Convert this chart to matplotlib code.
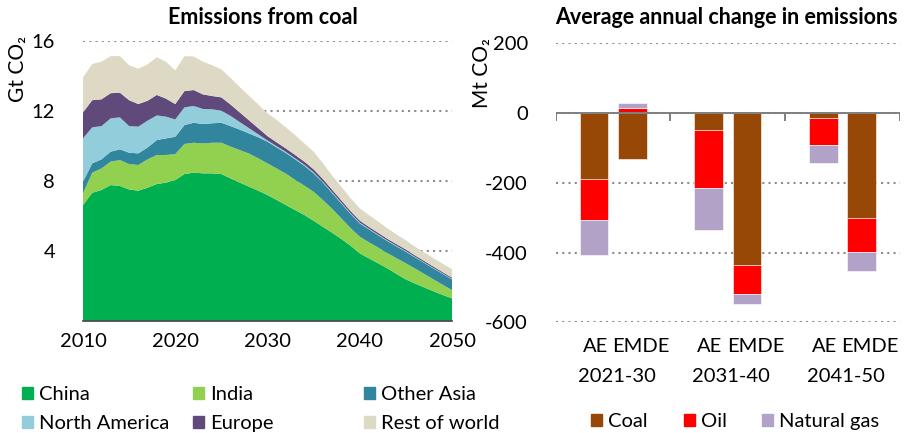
import numpy as np
import matplotlib
matplotlib.use('Agg')
import matplotlib.pyplot as plt
import matplotlib.patches as mpatches
import matplotlib.transforms as mtransforms

plt.rcParams['font.family'] = ['Lato', 'DejaVu Sans']
plt.rcParams['axes.unicode_minus'] = False

# ---- left panel: emissions from coal (Gt CO2)
years = list(range(2010, 2051))
china = [6.61, 7.31, 7.47, 7.75, 7.70, 7.50, 7.43, 7.60, 7.81, 7.89,
         8.04, 8.38, 8.46, 8.42, 8.42, 8.38, 8.13, 7.89, 7.66, 7.43,
         7.18, 6.90, 6.61, 6.32, 6.04, 5.71, 5.37, 5.03, 4.67, 4.29,
         3.85, 3.56, 3.28, 2.99, 2.67, 2.36, 2.12, 1.90, 1.68, 1.47, 1.28]
india = [0.67, 1.15, 1.23, 1.34, 1.48, 1.45, 1.47, 1.62, 1.66, 1.58,
         1.48, 1.72, 1.71, 1.71, 1.75, 1.79, 1.82, 1.86, 1.89, 1.85,
         1.81, 1.80, 1.79, 1.73, 1.68, 1.66, 1.53, 1.37, 1.18, 1.01,
         0.95, 0.92, 0.90, 0.87, 0.90, 0.92, 0.86, 0.77, 0.68, 0.58, 0.47]
other_asia = [0.66, 0.53, 0.52, 0.57, 0.61, 0.65, 0.66, 0.68, 0.85, 0.95,
              0.99, 1.08, 1.14, 1.11, 1.11, 1.14, 1.17, 1.17, 1.15, 1.20,
              1.24, 1.20, 1.18, 1.17, 1.13, 1.05, 1.00, 0.90, 0.85, 0.80,
              0.76, 0.74, 0.70, 0.69, 0.67, 0.66, 0.64, 0.63, 0.62, 0.62, 0.61]
north_america = [2.48, 2.06, 1.90, 1.90, 1.83, 1.52, 1.53, 1.53, 1.41, 1.24,
                 0.99, 1.01, 0.96, 0.86, 0.80, 0.69, 0.58, 0.43, 0.30, 0.17,
                 0.07, 0.07, 0.06, 0.06, 0.06, 0.06, 0.05, 0.05, 0.05, 0.05,
                 0.05, 0.04, 0.04, 0.04, 0.04, 0.04, 0.03, 0.03, 0.03, 0.03, 0.03]
europe = [1.48, 1.55, 1.53, 1.44, 1.41, 1.48, 1.29, 1.14, 1.17, 1.03,
          0.88, 0.93, 0.91, 0.83, 0.76, 0.76, 0.65, 0.55, 0.45, 0.35,
          0.25, 0.22, 0.20, 0.19, 0.18, 0.17, 0.15, 0.14, 0.13, 0.12,
          0.11, 0.10, 0.10, 0.09, 0.09, 0.09, 0.08, 0.08, 0.08, 0.07, 0.07]
rest_of_world = [2.00, 2.07, 2.15, 2.12, 2.09, 2.00, 2.02, 2.08, 2.15, 2.11,
                 1.92, 2.00, 1.92, 1.87, 1.76, 1.60, 1.52, 1.45, 1.40, 1.35,
                 1.30, 1.28, 1.21, 1.13, 1.04, 1.01, 0.90, 0.81, 0.78, 0.73,
                 0.70, 0.68, 0.64, 0.60, 0.55, 0.52, 0.50, 0.49, 0.48, 0.48, 0.48]
region_names = ['China', 'India', 'Other Asia', 'North America', 'Europe', 'Rest of world']
region_colors = ['#00B050', '#92D050', '#31859C', '#92CDDC', '#604A7B', '#DDD9C4']

# ---- right panel: average annual change (Mt CO2)
periods = ['2021-30', '2031-40', '2041-50']
groups = ['AE', 'EMDE']
ae_coal = [-190, -48, -14]
ae_oil = [-116, -167, -77]
ae_gas = [-101, -120, -53]
emde_coal = [-132, -437, -301]
emde_oil = [14, -82, -98]
emde_gas = [15, -29, -53]
fuel_names = ['Coal', 'Oil', 'Natural gas']
fuel_colors = ['#974706', '#FF0000', '#B3A2C7']

W, H = 906, 433
fig = plt.figure(figsize=(W / 100, H / 100), dpi=100)

def px(x0, y0, x1, y1):
    return [x0 / W, 1 - y1 / H, (x1 - x0) / W, (y1 - y0) / H]

grid_kw = dict(color='#8c8c8c', linewidth=1.5, linestyle=(0, (1, 2)))
fs = 14.5

# left
ax1 = fig.add_axes(px(83, 40.7, 452, 320.7))
ax1.stackplot(years, china, india, other_asia, north_america, europe, rest_of_world,
              colors=region_colors, linewidth=0, zorder=2)
ax1.set_xlim(2010, 2050)
ax1.set_ylim(0, 16)
ax1.set_yticks([4, 8, 12, 16])
ax1.set_xticks([2010, 2020, 2030, 2040, 2050])
ax1.yaxis.grid(True, **grid_kw)
ax1.set_axisbelow(True)
for s in ['top', 'right', 'left']:
    ax1.spines[s].set_visible(False)
ax1.spines['bottom'].set_color('#404040')
ax1.spines['bottom'].set_linewidth(1.2)
ax1.spines['bottom'].set_zorder(3)
ax1.tick_params(length=0, labelsize=fs)
ax1.tick_params(axis='x', pad=9)
ax1.tick_params(axis='y', pad=20)
ax1.set_ylabel('Gt CO₂', fontsize=15)
ax1.yaxis.set_label_coords(-0.149, 0.90)

# right
ax2 = fig.add_axes(px(555.7, 43.3, 900, 322.3))
g = np.arange(len(periods))
bw = 0.25
off = 1 / 6

def stack(xpos, parts):
    pos_base = np.zeros(len(xpos))
    neg_base = np.zeros(len(xpos))
    for vals, c in zip(parts, fuel_colors):
        vals = np.array(vals, dtype=float)
        base = np.where(vals >= 0, pos_base, neg_base)
        ax2.bar(xpos, vals, bw, bottom=base, color=c, edgecolor='white',
                linewidth=0.4, zorder=2)
        pos_base = pos_base + np.clip(vals, 0, None)
        neg_base = neg_base + np.clip(vals, None, 0)

stack(g - off, [ae_coal, ae_oil, ae_gas])
stack(g + off, [emde_coal, emde_oil, emde_gas])
ax2.set_xlim(-0.5, len(periods) - 0.5)
ax2.set_ylim(-600, 200)
ax2.set_yticks([-600, -400, -200, 0, 200])
ax2.set_xticks([])
ax2.yaxis.grid(True, **grid_kw)
ax2.set_axisbelow(True)
for s in ax2.spines.values():
    s.set_visible(False)
ax2.axhline(0, color='#7f7f7f', linewidth=1.4, zorder=3)
ax2.vlines(np.arange(len(periods) + 1) - 0.5, -22, 0, color='#7f7f7f',
           linewidth=1.4, zorder=3)
ax2.tick_params(length=0, labelsize=fs)
ax2.tick_params(axis='y', pad=20)
trans = mtransforms.blended_transform_factory(ax2.transData, fig.transFigure)
for i, p in enumerate(periods):
    ax2.text(i - 0.045, 1 - 346 / H, groups[0], transform=trans, ha='right',
             va='center', fontsize=fs)
    ax2.text(i - 0.01, 1 - 346 / H, groups[1], transform=trans, ha='left',
             va='center', fontsize=fs)
    ax2.text(i + 0.03, 1 - 377 / H, p, transform=trans, ha='center', va='center',
             fontsize=fs)
ax2.set_ylabel('Mt CO₂', fontsize=15)
ax2.yaxis.set_label_coords(-0.185, 0.892)

# titles
fig.text(263 / W, 1 - 18 / H, 'Emissions from coal', ha='center', va='center',
         fontsize=15.5, fontweight='bold')
fig.text(726 / W, 1 - 18 / H, 'Average annual change in emissions', ha='center',
         va='center', fontsize=15.5, fontweight='bold')

# legends
def legend_col(names, colors, x, y):
    h = [mpatches.Patch(color=c, label=n) for n, c in zip(names, colors)]
    return fig.legend(handles=h, loc='upper left', bbox_to_anchor=(x / W, 1 - y / H),
                      frameon=False, fontsize=fs, handlelength=0.55, handleheight=0.55,
                      handletextpad=0.3, labelspacing=0.6, borderpad=0, borderaxespad=0)

legend_col([region_names[0], region_names[3]], [region_colors[0], region_colors[3]], 22, 386)
legend_col([region_names[1], region_names[4]], [region_colors[1], region_colors[4]], 193, 386)
legend_col([region_names[2], region_names[5]], [region_colors[2], region_colors[5]], 364, 386)
for n, c, x in zip(fuel_names, fuel_colors, [591, 684, 762]):
    legend_col([n], [c], x, 413)

fig.savefig('out.png', dpi=100)
